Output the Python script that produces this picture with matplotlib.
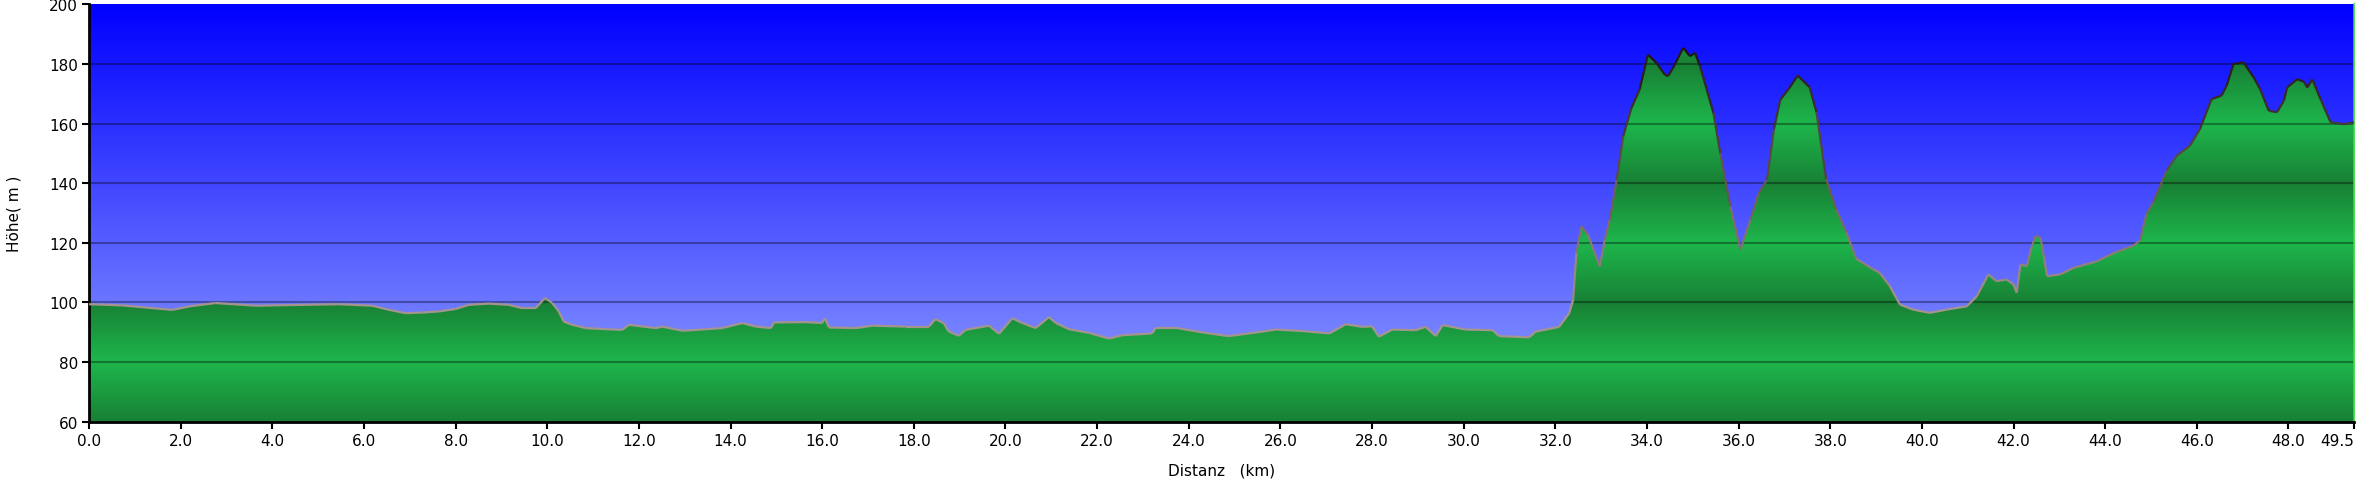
import numpy as np
from matplotlib import pyplot as plt
from matplotlib.patches import Polygon
from matplotlib.collections import LineCollection

# elevation profile
km = [0.0, 0.73, 1.82, 2.2, 2.76, 3.64, 4.36, 5.45, 6.18, 6.55, 6.91, 7.27, 7.64, 8.0,
      8.29, 8.73, 9.16, 9.45, 9.75, 9.95, 10.11, 10.25, 10.36, 10.55, 10.84, 11.3, 11.64,
      11.78, 12.37, 12.51, 12.95, 13.46, 13.82, 14.26, 14.55, 14.88, 14.95, 15.64, 16.0,
      16.06, 16.15, 16.73, 17.1, 17.82, 18.33, 18.47, 18.65, 18.76, 18.98, 19.13, 19.64,
      19.86, 20.15, 20.37, 20.66, 20.95, 21.1, 21.39, 21.82, 22.26, 22.55, 23.2, 23.27,
      23.78, 24.36, 24.87, 25.6, 25.9, 26.48, 27.07, 27.43, 27.79, 28.0, 28.15, 28.44,
      28.95, 29.17, 29.39, 29.54, 30.04, 30.63, 30.77, 31.43, 31.57, 32.08, 32.3, 32.39,
      32.46, 32.57, 32.71, 32.97, 33.08, 33.19, 33.34, 33.48, 33.66, 33.84, 34.02, 34.21,
      34.39, 34.46, 34.57, 34.79, 34.94, 35.05, 35.16, 35.45, 35.6, 35.82, 36.04, 36.26,
      36.44, 36.62, 36.77, 36.91, 37.11, 37.29, 37.55, 37.7, 37.91, 38.13, 38.35, 38.57,
      38.93, 39.08, 39.3, 39.52, 39.81, 40.17, 40.54, 40.98, 41.2, 41.45, 41.63, 41.85,
      42.0, 42.07, 42.15, 42.29, 42.4, 42.48, 42.59, 42.66, 42.73, 43.02, 43.31, 43.82,
      44.19, 44.61, 44.76, 44.9, 45.05, 45.34, 45.56, 45.85, 46.07, 46.32, 46.54, 46.65,
      46.8, 47.02, 47.24, 47.38, 47.57, 47.75, 47.9, 47.97, 48.19, 48.34, 48.41, 48.52,
      48.7, 48.92, 49.21, 49.43]
hoehe = [99.4, 99.0, 97.5, 98.7, 99.8, 98.9, 99.1, 99.4, 98.9, 97.5, 96.4, 96.6, 97.0, 97.8,
         99.2, 99.6, 99.2, 98.1, 98.1, 101.5, 99.8, 97.0, 93.6, 92.5, 91.4, 91.0, 90.8,
         92.5, 91.4, 91.9, 90.5, 91.0, 91.4, 93.1, 91.9, 91.4, 93.3, 93.4, 93.1,
         94.7, 91.6, 91.4, 92.2, 91.9, 91.9, 94.4, 93.1, 90.3, 88.8, 90.8, 92.2,
         89.5, 94.7, 93.1, 91.4, 95.1, 93.1, 91.0, 89.8, 87.9, 89.0, 89.6, 91.3,
         91.3, 89.8, 88.7, 90.2, 90.9, 90.4, 89.6, 92.7, 91.8, 92.0, 88.5, 90.9,
         90.7, 91.8, 88.7, 92.4, 90.9, 90.7, 88.7, 88.3, 90.2, 91.8, 96.3, 100.9,
         116.6, 125.5, 122.7, 112.1, 121.0, 127.8, 141.2, 155.7, 165.2, 171.4, 183.1, 180.3,
         176.4, 175.9, 178.7, 185.4, 182.6, 183.7, 179.2, 163.6, 150.1, 132.2, 117.7, 127.8,
         136.7, 141.2, 158.0, 168.0, 172.0, 176.1, 172.2, 163.8, 141.4, 131.3, 123.5, 114.6,
         111.2, 109.9, 105.5, 99.3, 97.6, 96.5, 97.6, 98.7, 102.1, 109.4, 107.1, 107.7,
         106.0, 103.2, 112.7, 112.2, 118.9, 122.2, 121.7, 115.5, 108.8, 109.4, 111.6, 113.8,
         116.6, 119.0, 120.7, 129.6, 133.6, 144.2, 149.2, 152.6, 158.2, 168.2, 169.4, 172.7,
         180.0, 180.5, 175.5, 171.6, 164.3, 163.8, 167.7, 172.1, 174.9, 174.0, 172.1, 174.9,
         168.2, 160.4, 159.8, 160.4]

x_ticks = [0.0, 2.0, 4.0, 6.0, 8.0, 10.0, 12.0, 14.0, 16.0, 18.0, 20.0, 22.0, 24.0,
           26.0, 28.0, 30.0, 32.0, 34.0, 36.0, 38.0, 40.0, 42.0, 44.0, 46.0, 48.0, 49.43]
x_labels = ['%.1f' % t for t in x_ticks[:-1]] + ['49.5']
y_ticks = [60, 80, 100, 120, 140, 160, 180, 200]

ymin, ymax = 60, 200
xmax = km[-1]

fig = plt.figure(figsize=(23.62, 4.89), dpi=100)
ax = fig.add_axes([89 / 2362, 1 - 422.7 / 489, (2354 - 89) / 2362, (422.7 - 5.3) / 489])

# sky gradient
ys = np.linspace(ymax, ymin, 400)
f = (ymax - ys) / (ymax - ymin)
top = np.array([0, 0, 255]) / 255
bot = np.array([150, 165, 255]) / 255
sky = top[None, :] * (1 - f[:, None]) + bot[None, :] * f[:, None]
ax.imshow(sky[:, None, :], extent=[0, xmax, ymin, ymax], aspect='auto', zorder=0)

# green gradient, repeating every 40 m
t = ((ys - 60) % 40) / 40
b = 1 - np.abs(2 * t - 1)
dark = np.array([24, 128, 52]) / 255
bright = np.array([30, 182, 76]) / 255
grn = dark[None, :] * (1 - b[:, None]) + bright[None, :] * b[:, None]
im = ax.imshow(grn[:, None, :], extent=[0, xmax, ymin, ymax], aspect='auto', zorder=1)
verts = [(km[0], ymin)] + list(zip(km, hoehe)) + [(km[-1], ymin)]
poly = Polygon(verts, closed=True, facecolor='none', edgecolor='none')
ax.add_patch(poly)
im.set_clip_path(poly)

# grid lines
for yv in y_ticks[1:-1]:
    ax.axhline(yv, color='black', alpha=0.35, lw=1.5, zorder=2)

# outline, grey at the bottom getting darker at the top
pts = np.array([km, hoehe]).T
segs = np.stack([pts[:-1], pts[1:]], axis=1)
mid = (np.array(hoehe[:-1]) + np.array(hoehe[1:])) / 2
fr = np.clip((mid - 100) / 85, 0, 1)
c_lo = np.array([0.64, 0.58, 0.55])
c_hi = np.array([0.12, 0.08, 0.08])
cols = c_lo[None, :] * (1 - fr[:, None]) + c_hi[None, :] * fr[:, None]
ax.add_collection(LineCollection(segs, colors=cols, linewidths=1.6, zorder=3))

ax.set_xlim(0, xmax)
ax.set_ylim(ymin, ymax)
ax.set_xticks(x_ticks)
ax.set_xticklabels(x_labels)
ax.get_xticklabels()[-1].set_horizontalalignment('right')
ax.set_yticks(y_ticks)
ax.tick_params(axis='both', labelsize=11, length=5, width=1.5, direction='out', pad=3)

ax.spines['top'].set_visible(False)
ax.spines['left'].set_linewidth(2)
ax.spines['bottom'].set_linewidth(2)
ax.spines['right'].set_color('#35d835')
ax.spines['right'].set_linewidth(1.2)

ax.set_xlabel('Distanz   (km)', fontsize=11)
ax.set_ylabel('Höhe( m )', fontsize=11)
ax.xaxis.set_label_coords(0.5, -0.115)
ax.yaxis.set_label_coords(-0.033, 0.5)
ax.xaxis.label.set_verticalalignment('center')
ax.yaxis.label.set_verticalalignment('center')

fig.savefig('out.png', dpi=100)
